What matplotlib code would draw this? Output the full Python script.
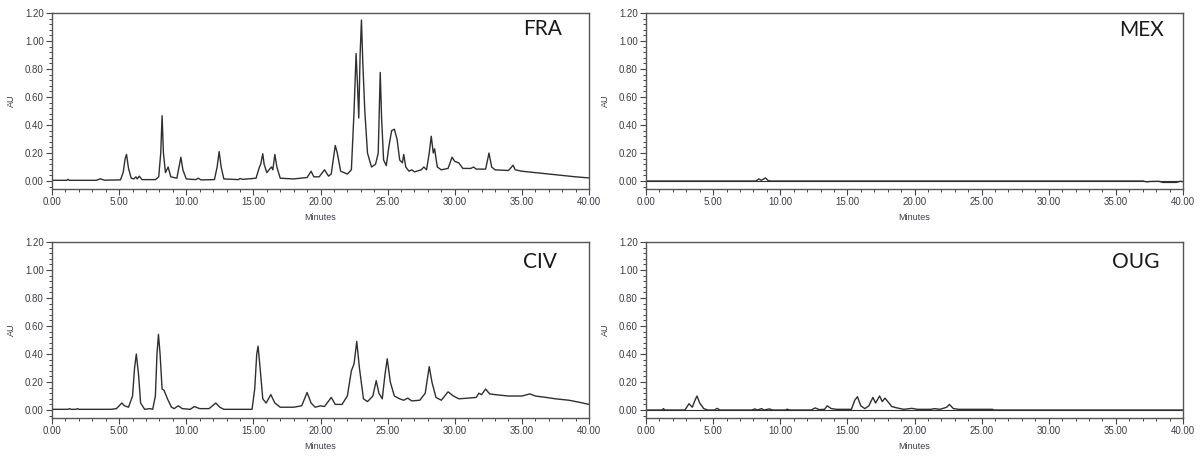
import matplotlib
matplotlib.use("Agg")
import matplotlib.pyplot as plt
from matplotlib.ticker import MultipleLocator, FormatStrFormatter

# ---- data: (minutes, AU) points ----
fra_t = [0, 1.1, 1.2, 1.3, 3.3, 3.6, 3.9, 5.1, 5.3, 5.45, 5.55, 5.7, 5.9, 6.1, 6.25, 6.35, 6.5, 6.7,
         7.7, 7.95, 8.1, 8.2, 8.3, 8.45, 8.65, 8.85, 9.3, 9.5, 9.6, 9.75, 10.0, 10.7, 10.9, 11.1,
         12.1, 12.3, 12.45, 12.6, 12.8, 13.9, 14.0, 14.2, 15.2, 15.45, 15.55, 15.7, 15.8, 16.0,
         16.25, 16.35, 16.45, 16.6, 16.75, 17.0, 18.0, 19.0, 19.3, 19.5, 19.9, 20.3, 20.6, 20.8,
         21.05, 21.1, 21.25, 21.5, 22.0, 22.3, 22.5, 22.65, 22.75, 22.85, 22.95, 23.05, 23.15,
         23.3, 23.5, 23.8, 24.1, 24.2, 24.3, 24.45, 24.55, 24.7, 24.9, 25.1, 25.3, 25.5, 25.7,
         25.9, 26.1, 26.2, 26.35, 26.6, 26.8, 27.0, 27.5, 27.7, 27.9, 28.1, 28.25, 28.4, 28.5,
         28.7, 29.0, 29.5, 29.8, 30.0, 30.3, 30.6, 31.2, 31.4, 31.6, 32.3, 32.55, 32.75, 33.0,
         34.0, 34.35, 34.5, 35.0, 36.0, 37.0, 38.0, 39.0, 40.0]
fra_au = [0.005, 0.005, 0.012, 0.005, 0.005, 0.016, 0.006, 0.008, 0.06, 0.16, 0.19, 0.09, 0.02, 0.015, 0.03, 0.015, 0.035, 0.01,
          0.01, 0.03, 0.2, 0.466, 0.2, 0.06, 0.10, 0.03, 0.02, 0.12, 0.17, 0.08, 0.015, 0.01, 0.02, 0.008,
          0.01, 0.1, 0.21, 0.1, 0.015, 0.01, 0.018, 0.012, 0.02, 0.1, 0.12, 0.195, 0.12, 0.06,
          0.09, 0.1, 0.08, 0.19, 0.1, 0.02, 0.015, 0.025, 0.07, 0.03, 0.03, 0.08, 0.035, 0.05,
          0.22, 0.254, 0.2, 0.07, 0.05, 0.08, 0.5, 0.91, 0.7, 0.45, 0.9, 1.15, 0.85,
          0.5, 0.2, 0.1, 0.12, 0.16, 0.2, 0.776, 0.45, 0.15, 0.11, 0.25, 0.36, 0.37, 0.3,
          0.15, 0.13, 0.19, 0.1, 0.07, 0.08, 0.065, 0.08, 0.1, 0.08, 0.2, 0.32, 0.2, 0.23,
          0.1, 0.08, 0.09, 0.17, 0.14, 0.13, 0.09, 0.09, 0.1, 0.085, 0.085, 0.2, 0.1, 0.08,
          0.075, 0.113, 0.08, 0.07, 0.06, 0.05, 0.04, 0.03, 0.022]

civ_t = [0, 1.2, 1.3, 1.4, 1.8, 1.9, 2.0, 4.4, 4.8, 5.0, 5.2, 5.4, 5.7, 6.0, 6.15, 6.28, 6.45, 6.6, 6.9,
         7.3, 7.5, 7.7, 7.82, 7.93, 8.05, 8.2, 8.35, 8.6, 8.9, 9.1, 9.4, 9.7, 10.3, 10.6, 11.0, 11.7,
         12.2, 12.5, 12.8, 14.9, 15.1, 15.25, 15.35, 15.5, 15.7, 15.95, 16.3, 16.6, 17.0, 18.0,
         18.6, 19.0, 19.3, 19.6, 20.0, 20.3, 20.8, 21.1, 21.6, 22.0, 22.3, 22.5, 22.7, 22.9, 23.2,
         23.5, 23.9, 24.15, 24.35, 24.6, 24.8, 24.97, 25.2, 25.5, 25.9, 26.2, 26.5, 26.8, 27.4,
         27.8, 28.1, 28.3, 28.6, 29.0, 29.5, 29.9, 30.3, 31.0, 31.6, 31.8, 32.0, 32.3, 32.6, 33.0,
         34.0, 35.0, 35.6, 36.0, 36.8, 37.5, 38.5, 39.3, 40.0]
civ_au = [0.005, 0.005, 0.01, 0.005, 0.005, 0.01, 0.005, 0.005, 0.01, 0.03, 0.05, 0.03, 0.02, 0.1, 0.3, 0.40, 0.25, 0.05, 0.005,
          0.01, 0.005, 0.1, 0.4, 0.54, 0.4, 0.15, 0.14, 0.08, 0.02, 0.01, 0.03, 0.01, 0.005, 0.025, 0.01, 0.01,
          0.05, 0.02, 0.005, 0.005, 0.15, 0.4, 0.456, 0.3, 0.08, 0.05, 0.11, 0.05, 0.02, 0.02,
          0.03, 0.125, 0.05, 0.02, 0.03, 0.025, 0.09, 0.04, 0.04, 0.1, 0.28, 0.33, 0.49, 0.3, 0.08,
          0.06, 0.1, 0.21, 0.12, 0.08, 0.25, 0.366, 0.2, 0.1, 0.08, 0.07, 0.085, 0.065, 0.07,
          0.12, 0.31, 0.2, 0.09, 0.07, 0.13, 0.1, 0.08, 0.085, 0.09, 0.12, 0.11, 0.15, 0.115, 0.11,
          0.1, 0.1, 0.115, 0.1, 0.09, 0.08, 0.07, 0.055, 0.04]

mex_t = [0, 8.2, 8.4, 8.6, 8.9, 9.1, 9.3, 37.0, 37.3, 37.6, 38.2, 38.5, 39.5, 39.8, 40.0]
mex_au = [0.0, 0.0, 0.015, 0.005, 0.022, 0.003, 0.0, 0.0, -0.006, -0.003, -0.002, -0.01, -0.01, -0.002, -0.005]

oug_t = [0, 1.2, 1.3, 1.4, 2.9, 3.2, 3.45, 3.65, 3.8, 4.0, 4.3, 4.6, 5.1, 5.3, 5.5, 7.9, 8.1, 8.3, 8.6, 8.8,
         9.2, 9.4, 10.4, 10.5, 10.7, 12.3, 12.6, 12.9, 13.3, 13.5, 13.8, 14.2, 15.3, 15.55, 15.75, 16.0,
         16.3, 16.6, 16.9, 17.1, 17.4, 17.6, 17.8, 18.1, 18.3, 18.7, 19.2, 19.8, 20.2, 21.2, 21.5, 21.9,
         22.4, 22.6, 22.9, 23.3, 25.8, 25.9, 40.0]
oug_au = [0.0, 0.0, 0.01, 0.0, 0.0, 0.045, 0.02, 0.07, 0.10, 0.05, 0.01, 0.0, 0.0, 0.012, 0.0, 0.0, 0.008, 0.0, 0.01, 0.0,
          0.008, 0.0, 0.0, 0.006, 0.0, 0.0, 0.015, 0.003, 0.005, 0.03, 0.01, 0.005, 0.005, 0.07, 0.095, 0.03,
          0.01, 0.03, 0.09, 0.05, 0.10, 0.06, 0.085, 0.05, 0.025, 0.015, 0.005, 0.012, 0.005, 0.005, 0.01, 0.005,
          0.02, 0.04, 0.01, 0.005, 0.005, 0.0, 0.0]

panel_names = ["FRA", "MEX", "CIV", "OUG"]
x_ticks = [0, 5, 10, 15, 20, 25, 30, 35, 40]
y_ticks = [0.0, 0.2, 0.4, 0.6, 0.8, 1.0, 1.2]

series = [(fra_t, fra_au), (mex_t, mex_au), (civ_t, civ_au), (oug_t, oug_au)]

W, H = 1203, 457
fig = plt.figure(figsize=(W / 100, H / 100), dpi=100)

# axes rectangles in pixels: left, top, right, bottom
rects = [(52, 13, 589, 189), (646, 13, 1183, 189),
         (52, 242, 589, 418), (646, 242, 1183, 418)]
label_pos = [(0.914, 0.91), (0.922, 0.905), (0.908, 0.885), (0.912, 0.885)]

tick_font = ['Liberation Sans', 'DejaVu Sans']
tick_col = '#3c3c4c'
for (l, t, r, b), name, (xs, ys), (lx, ly) in zip(rects, panel_names, series, label_pos):
    ax = fig.add_axes([l / W, 1 - b / H, (r - l) / W, (b - t) / H])
    ax.plot(xs, ys, color='#2f2f2f', lw=1.0)
    if name in ("MEX", "OUG"):
        ax.axhline(0.0, color='#2f2f2f', lw=0.8)
    ax.set_xlim(0, 40)
    ax.set_ylim(-0.057, 1.2)
    ax.set_xticks(x_ticks)
    ax.set_yticks(y_ticks)
    ax.xaxis.set_major_formatter(FormatStrFormatter('%.2f'))
    ax.yaxis.set_major_formatter(FormatStrFormatter('%.2f'))
    ax.xaxis.set_minor_locator(MultipleLocator(1))
    ax.yaxis.set_minor_locator(MultipleLocator(0.04))
    ax.tick_params(which='major', direction='out', length=4, width=0.8, color='#444444',
                   labelsize=7, labelcolor=tick_col, pad=2)
    ax.tick_params(which='minor', direction='out', length=2.5, width=0.7, color='#444444')
    for lab in ax.get_xticklabels() + ax.get_yticklabels():
        lab.set_family(tick_font)
    for s in ax.spines.values():
        s.set_color('#555555')
        s.set_linewidth(1.0)
    ax.set_xlabel('Minutes', fontsize=6.5, family=tick_font, color=tick_col, labelpad=4)
    ax.set_ylabel('AU', fontsize=6.5, family=tick_font, color=tick_col, labelpad=6)
    ax.text(lx, ly, name, transform=ax.transAxes, ha='center', va='center',
            fontsize=15, family=['Lato', 'DejaVu Sans'], color='#1a1a1a')

fig.savefig('out.png', dpi=100)
